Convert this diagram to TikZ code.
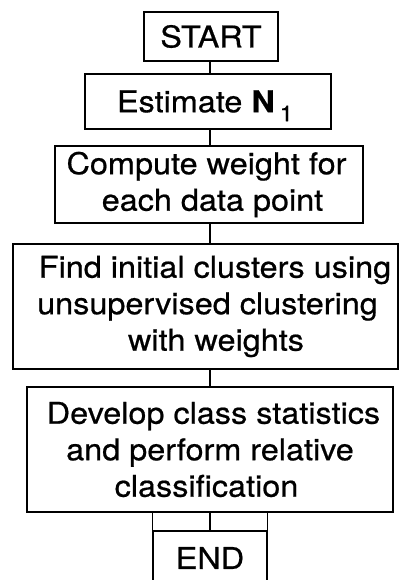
\documentclass[tikz,border=0pt]{standalone}
\usepackage{fontspec}
\setmainfont{TeX Gyre Heros}[FakeStretch=1.08,FakeBold=0.6]
\newcommand{\shr}[2]{\hspace*{#1}#2}
\newcommand{\shl}[2]{#2\hspace*{#1}}
\begin{document}
\begin{tikzpicture}[x=1pt,y=-1pt,
  box/.style={draw, line width=1.5pt, inner sep=0pt, align=center,
    font=\fontsize{30}{36.5}\selectfont},
  link/.style={line width=1.3pt}]
\useasboundingbox (0,0) rectangle (399,580);
\node[box, minimum width=134pt, minimum height=49pt] (start) at (211,36.5) {START};
\node[box, minimum width=246pt, minimum height=55pt] (est) at (208,101.5)
  {Estimate \textbf{N}\,\raisebox{-9pt}[0pt][0pt]{\fontsize{22}{22}\selectfont 1}\hspace{6pt}};
\node[box, minimum width=308pt, minimum height=77pt] (comp) at (209,184.5)
  {\shl{5pt}{Compute weight for}\\ \shr{7pt}{each data point}};
\node[box, minimum width=385pt, minimum height=125pt] (find) at (205.5,306.5)
  {\shr{19pt}{Find initial clusters using}\\\shr{4pt}{unsupervised clustering}\\\shr{21pt}{with weights}};
\node[box, minimum width=366pt, minimum height=125pt] (dev) at (210,449.5)
  {\shr{7pt}{Develop class statistics}\\\shl{7pt}{and perform relative}\\\shl{7pt}{classification}};
\node[box, minimum width=114pt, minimum height=54pt] (endn) at (210,558) {END};
\coordinate (cx) at (210,0);
\draw[link] (start.south -| cx) -- (est.north -| cx);
\draw[link] (est.south -| cx) -- (comp.north -| cx);
\draw[link] (comp.south -| cx) -- (find.north -| cx);
\draw[link] (find.south -| cx) -- (dev.north -| cx);
\draw[link] (dev.south -| cx) -- (endn.north -| cx);
\draw[link] (endn.north west) -- (endn.north west |- dev.south);
\draw[link] (endn.north east) -- (endn.north east |- dev.south);
\end{tikzpicture}
\end{document}
